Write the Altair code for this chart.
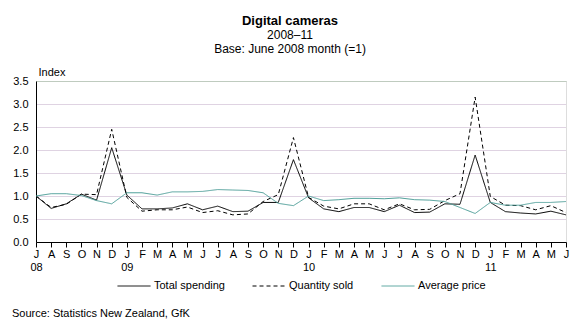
import json
import altair as alt
import pandas as pd

# ---- data -------------------------------------------------------------
month_labels = ["J", "A", "S", "O", "N", "D",
                "J", "F", "M", "A", "M", "J", "J", "A", "S", "O", "N", "D",
                "J", "F", "M", "A", "M", "J", "J", "A", "S", "O", "N", "D",
                "J", "F", "M", "A", "M", "J"]
year_labels = {0: "08", 6: "09", 18: "10", 30: "11"}

total_spending = [1.00, 0.73, 0.83, 1.04, 0.91, 2.05, 1.02, 0.72, 0.72, 0.74,
                  0.83, 0.70, 0.78, 0.66, 0.67, 0.86, 0.86, 1.79, 0.96, 0.72,
                  0.66, 0.75, 0.75, 0.66, 0.80, 0.64, 0.65, 0.83, 0.82, 1.89,
                  0.86, 0.66, 0.63, 0.61, 0.67, 0.59]
quantity_sold = [1.00, 0.75, 0.82, 1.04, 1.03, 2.45, 0.97, 0.67, 0.70, 0.70,
                 0.76, 0.64, 0.68, 0.59, 0.61, 0.88, 1.03, 2.27, 0.97, 0.78,
                 0.72, 0.83, 0.83, 0.70, 0.83, 0.70, 0.71, 0.90, 1.05, 3.15,
                 0.99, 0.80, 0.79, 0.70, 0.79, 0.64]
average_price = [1.00, 1.05, 1.05, 1.01, 0.90, 0.83, 1.07, 1.07, 1.02, 1.09,
                 1.09, 1.10, 1.14, 1.13, 1.12, 1.07, 0.84, 0.79, 1.00, 0.90,
                 0.92, 0.95, 0.95, 0.94, 0.96, 0.92, 0.91, 0.88, 0.75, 0.62,
                 0.86, 0.80, 0.80, 0.86, 0.86, 0.88]

series_names = ["Total spending", "Quantity sold", "Average price"]
series_colors = ["#000000", "#000000", "#4d9e98"]
series_dashes = [[1, 0], [4, 3], [1, 0]]

y_ticks = [0, 0.5, 1.0, 1.5, 2.0, 2.5, 3.0, 3.5]

title_text = "Digital cameras"
subtitle_lines = ["2008\u201311", "Base: June 2008 month (=1)"]
source_text = "Source: Statistics New Zealand, GfK"
y_title = "Index"

FONT = "Liberation Sans"

# ---- build table --------------------------------------------------------
rows = []
for name, vals in zip(series_names, [total_spending, quantity_sold, average_price]):
    for i, v in enumerate(vals):
        rows.append({"t": i, "series": name, "value": v})
df = pd.DataFrame(rows)

ml = json.dumps(month_labels)
yl = json.dumps([year_labels.get(i, "") for i in range(len(month_labels))])
label_expr = f"{yl}[datum.value] ? [{ml}[datum.value], {yl}[datum.value]] : {ml}[datum.value]"

legend_kw = dict(title=None, orient="none", legendX=81, legendY=188,
                 direction="horizontal", symbolType="stroke",
                 symbolSize=1089, symbolStrokeWidth=1,
                 labelFontSize=11, labelFont=FONT, labelColor="#000000",
                 labelOffset=3, columnPadding=25)

lines = alt.Chart(df).mark_line(strokeWidth=1).encode(
    x=alt.X("t:Q",
            scale=alt.Scale(domain=[0, len(month_labels) - 1], nice=False, zero=False),
            axis=alt.Axis(values=list(range(len(month_labels))), labelExpr=label_expr,
                          title=None, grid=False, tickSize=5, labelPadding=1,
                          labelFlush=False, labelOverlap=False, labelLineHeight=13,
                          labelFontSize=11, labelFont=FONT, labelColor="#000000",
                          domainColor="#000000", tickColor="#000000")),
    y=alt.Y("value:Q",
            scale=alt.Scale(domain=[0, 3.5], nice=False),
            axis=alt.Axis(values=y_ticks, format=".1f", title=y_title,
                          titleAngle=0, titleAlign="left", titleBaseline="alphabetic",
                          titleX=2, titleY=-6, titleFontSize=11, titleFont=FONT,
                          titleFontWeight="normal", titleColor="#000000",
                          tickSize=0, labelPadding=8, labelFontSize=11, labelFont=FONT,
                          labelColor="#000000", domainColor="#000000",
                          gridColor={"condition": {"test": "datum.value === 3.5", "value": "#b4c4b4"},
                                     "value": "#bfa6c4"},
                          gridDash={"condition": {"test": "datum.value === 3.5", "value": [1, 0]},
                                    "value": [1, 1]})),
    color=alt.Color("series:N",
                    scale=alt.Scale(domain=series_names, range=series_colors),
                    legend=alt.Legend(**legend_kw)),
    strokeDash=alt.StrokeDash("series:N",
                              scale=alt.Scale(domain=series_names, range=series_dashes),
                              legend=alt.Legend(**legend_kw)),
)

source = alt.Chart(pd.DataFrame({"text": [source_text]})).mark_text(
    align="left", baseline="alphabetic", fontSize=11, font=FONT, color="#000000"
).encode(text="text:N", x=alt.value(-24), y=alt.value(236))

chart = alt.layer(lines, source).properties(
    width=530, height=161,
    padding={"left": 36, "top": 81, "right": 13, "bottom": 88},
    autosize=alt.AutoSizeParams(type="none"),
    title=alt.TitleParams(text=title_text, subtitle=subtitle_lines, anchor="middle",
                          dx=-11, fontSize=13, font=FONT, fontWeight="bold",
                          color="#000000", subtitleFont=FONT, subtitleFontSize=12,
                          subtitleColor="#000000", subtitlePadding=2,
                          subtitleLineHeight=14, offset=11),
).configure_view(stroke=None).configure(background="#ffffff")

chart.save("out.html", embed_options={"renderer": "svg", "actions": False})
